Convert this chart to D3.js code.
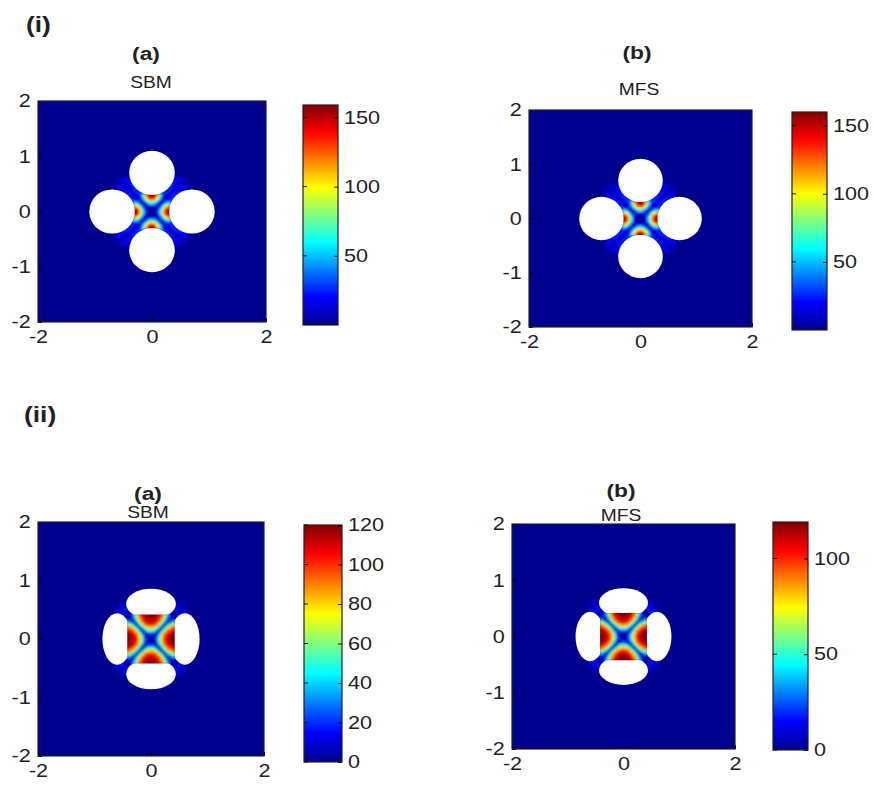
<!DOCTYPE html>
<html>
<head>
<meta charset="utf-8">
<script src="https://cdn.jsdelivr.net/npm/d3@7"></script>
<style>
  html, body { margin: 0; padding: 0; background: #fff; }
  text { font-family: "Liberation Sans", Arial, Helvetica, sans-serif; fill: #222; }
</style>
</head>
<body>
<script>
// ---- values ----
var rowLabels = ["(i)", "(ii)"];
var panelLetters = ["(a)", "(b)", "(a)", "(b)"];
var methods = ["SBM", "MFS", "SBM", "MFS"];
var colorMax = [159, 160, 120, 119];
var colorTicks = [[50, 100, 150], [50, 100, 150], [0, 20, 40, 60, 80, 100, 120], [0, 50, 100]];
var xTicks = [-2, 0, 2];
var yTicks = [-2, -1, 0, 1, 2];

// field, one quadrant per row of the figure (rows = |y|, cols = |x|, step 0.05), null = outside domain
var gridStep = 0.05;
var fieldRow1 = [
  [0, 5, 19, 60, 110, 146, 156, null, null, null, null, null, null],
  [5, 0, 16, 50, 96, 138, 150, null, null, null, null, null, null],
  [19, 16, 0, 26, 65, 100, 120, null, null, null, null, null, null],
  [60, 50, 26, 0, 29, 55, 69, null, null, null, null, null, null],
  [110, 96, 65, 29, 0, 17, 28, 28, null, null, null, null, null],
  [146, 138, 100, 55, 17, 0, 20, 26, null, null, null, null, null],
  [156, 150, 120, 69, 28, 20, 6, 18, 28, null, null, null, null],
  [null, null, null, null, 28, 26, 18, 6, 16, 24, 24, null, null],
  [null, null, null, null, null, null, 28, 16, 5, 14, 20, 20, 18],
  [null, null, null, null, null, null, null, 24, 14, 4, 12, 16, 15],
  [null, null, null, null, null, null, null, 24, 20, 12, 4, 10, 12],
  [null, null, null, null, null, null, null, null, 20, 16, 10, 3, 8],
  [null, null, null, null, null, null, null, null, 18, 15, 12, 8, 3]
];
var fieldRow2 = [
  [0, 7, 26, 56, 82, 103, 112, 117, 119, null, null, null, null],
  [7, 0, 20, 51, 80, 99, 110, 116, 118, null, null, null, null],
  [26, 20, 0, 32, 64, 91, 104, 111, 115, null, null, null, null],
  [56, 51, 32, 0, 37, 69, 92, 101, 107, null, null, null, null],
  [82, 80, 64, 37, 0, 39, 67, 85, 94, null, null, null, null],
  [103, 99, 91, 69, 39, 0, 36, 57, 68, null, null, null, null],
  [112, 110, 104, 92, 67, 36, 0, 24, 36, null, null, null, null],
  [117, 116, 111, 101, 85, 57, 24, 0, 12, null, null, null, null],
  [119, 118, 115, 107, 94, 68, 36, 12, 0, 10, null, null, null],
  [null, null, null, null, null, null, null, null, 10, 1, 18, 14, 8],
  [null, null, null, null, null, null, null, null, null, 18, 1, 10, 7],
  [null, null, null, null, null, null, null, null, null, 14, 10, 1, 5],
  [null, null, null, null, null, null, null, null, null, 8, 7, 5, 1]
];
// the four excluded (white) regions: centre distance, half-size along / across the axis, inner cut
var holesRow1 = { dist: 0.70, along: 0.40, across: 0.40, cut: 0.30 };
var holesRow2 = { dist: 0.60, along: 0.26, across: 0.44, cut: 0.42 };

// ---- layout ----
var W = 874, H = 791;
var textStretch = 1.2;
var rowLabelPos = [[26, 32], [24, 422]];
var layout = [
  { row: 0, box: [38, 101, 266, 322], bar: [303, 105, 338, 325], letter: [146, 60], method: [151, 88] },
  { row: 0, box: [529, 110, 752, 327], bar: [792, 112, 827, 330], letter: [637, 59], method: [639, 95] },
  { row: 1, box: [38, 522, 264, 756], bar: [304, 525, 342, 762], letter: [148, 500], method: [148, 518] },
  { row: 1, box: [512, 524, 735, 749], bar: [773, 522, 808, 750], letter: [621, 497], method: [621, 521] }
];

var svg = d3.select("body").append("svg").attr("width", W).attr("height", H);
var defs = svg.append("defs");
defs.append("filter").attr("id", "soft").attr("x", "-5%").attr("y", "-5%").attr("width", "110%").attr("height", "110%")
  .append("feGaussianBlur").attr("stdDeviation", 0.9);

function jet(max) {
  return d3.scaleLinear()
    .domain([0, 0.125, 0.375, 0.625, 0.875, 1].map(function(t) { return t * max; }))
    .range(["#00008f", "#0000ff", "#00ffff", "#ffff00", "#ff0000", "#800000"])
    .clamp(true);
}

function label(x, y, txt, size, bold, anchor) {
  return svg.append("text")
    .attr("transform", "translate(" + x + "," + y + ") scale(" + textStretch + ",1)")
    .attr("text-anchor", anchor || "middle")
    .style("font-size", size + "px").style("font-weight", bold ? "bold" : "normal")
    .text(txt);
}

rowLabels.forEach(function(d, i) { label(rowLabelPos[i][0], rowLabelPos[i][1], d, 22, true, "start"); });

layout.forEach(function(p, k) {
  var x = d3.scaleLinear().domain([-2, 2]).range([p.box[0], p.box[2]]);
  var y = d3.scaleLinear().domain([-2, 2]).range([p.box[3], p.box[1]]);
  var color = jet(colorMax[k]);
  var q = p.row === 0 ? fieldRow1 : fieldRow2;
  var holes = p.row === 0 ? holesRow1 : holesRow2;
  var n = q.length - 1;

  var cells = [];
  for (var j = -n; j <= n; j++) {
    for (var i = -n; i <= n; i++) {
      var v = q[Math.abs(j)][Math.abs(i)];
      if (v !== null) cells.push({ x: i * gridStep, y: j * gridStep, v: v });
    }
  }

  defs.append("clipPath").attr("id", "plot" + k)
    .append("rect").attr("x", p.box[0]).attr("y", p.box[1])
    .attr("width", p.box[2] - p.box[0]).attr("height", p.box[3] - p.box[1]);

  var c = holes.cut;
  defs.append("clipPath").attr("id", "outer" + k)
    .append("path").attr("clip-rule", "evenodd")
    .attr("d", "M" + p.box[0] + "," + p.box[1] + "H" + p.box[2] + "V" + p.box[3] + "H" + p.box[0] + "Z" +
      "M" + x(-c) + "," + y(c) + "H" + x(c) + "V" + y(-c) + "H" + x(-c) + "Z");

  var g = svg.append("g").attr("clip-path", "url(#plot" + k + ")");
  g.append("rect").attr("x", p.box[0]).attr("y", p.box[1])
    .attr("width", p.box[2] - p.box[0]).attr("height", p.box[3] - p.box[1])
    .attr("fill", color(0));

  var half = gridStep / 2;
  g.append("g").attr("filter", "url(#soft)")
    .selectAll("rect").data(cells).enter().append("rect")
    .attr("x", function(d) { return x(d.x - half) - 0.3; })
    .attr("y", function(d) { return y(d.y + half) - 0.3; })
    .attr("width", function(d) { return x(d.x + half) - x(d.x - half) + 0.6; })
    .attr("height", function(d) { return y(d.y - half) - y(d.y + half) + 0.6; })
    .attr("fill", function(d) { return color(d.v); });

  var holeList = [
    { cx: holes.dist, cy: 0, rx: holes.along, ry: holes.across },
    { cx: -holes.dist, cy: 0, rx: holes.along, ry: holes.across },
    { cx: 0, cy: holes.dist, rx: holes.across, ry: holes.along },
    { cx: 0, cy: -holes.dist, rx: holes.across, ry: holes.along }
  ];
  g.append("g").attr("clip-path", "url(#outer" + k + ")")
    .selectAll("ellipse").data(holeList).enter().append("ellipse")
    .attr("cx", function(d) { return x(d.cx); })
    .attr("cy", function(d) { return y(d.cy); })
    .attr("rx", function(d) { return x(d.rx) - x(0); })
    .attr("ry", function(d) { return y(0) - y(d.ry); })
    .attr("fill", "#fff");

  // axes
  var ax = svg.append("g").attr("transform", "translate(0," + p.box[3] + ")")
    .call(d3.axisBottom(x).tickValues(xTicks).tickSize(-4).tickPadding(8).tickFormat(function(d) { return String(d); }));
  var ay = svg.append("g").attr("transform", "translate(" + p.box[0] + ",0)")
    .call(d3.axisLeft(y).tickValues(yTicks).tickSize(-4).tickPadding(6).tickFormat(function(d) { return String(d); }));
  [ax, ay].forEach(function(a) {
    a.select(".domain").remove();
    a.selectAll("line").attr("stroke", "#000");
    a.selectAll("text").style("font-size", "18px").attr("fill", "#222")
      .attr("transform", "scale(" + textStretch + ",1)");
  });
  svg.append("rect").attr("x", p.box[0]).attr("y", p.box[1])
    .attr("width", p.box[2] - p.box[0]).attr("height", p.box[3] - p.box[1])
    .attr("fill", "none").attr("stroke", "#222").attr("stroke-width", 1.2);

  // titles
  label(p.letter[0], p.letter[1], panelLetters[k], 19, true);
  label(p.method[0], p.method[1], methods[k], 16, false);

  // colour bar
  var gid = "grad" + k;
  var grad = defs.append("linearGradient").attr("id", gid)
    .attr("x1", 0).attr("y1", 1).attr("x2", 0).attr("y2", 0);
  grad.selectAll("stop").data(color.domain()).enter().append("stop")
    .attr("offset", function(d) { return d / colorMax[k]; })
    .attr("stop-color", function(d) { return color(d); });
  var b = p.bar;
  var yc = d3.scaleLinear().domain([0, colorMax[k]]).range([b[3], b[1]]);
  svg.append("rect").attr("x", b[0]).attr("y", b[1]).attr("width", b[2] - b[0]).attr("height", b[3] - b[1])
    .attr("fill", "url(#" + gid + ")").attr("stroke", "#222").attr("stroke-width", 1.2);
  var cb = svg.append("g").attr("transform", "translate(" + b[2] + ",0)")
    .call(d3.axisRight(yc).tickValues(colorTicks[k]).tickSize(-4).tickPadding(5));
  cb.select(".domain").remove();
  cb.selectAll("line").attr("stroke", "#111");
  cb.selectAll("text").style("font-size", "18px").attr("fill", "#222")
    .attr("transform", "scale(" + textStretch + ",1)");
  svg.append("g").selectAll("line").data(colorTicks[k]).enter().append("line")
    .attr("x1", b[0]).attr("x2", b[0] + 4)
    .attr("y1", function(d) { return yc(d); }).attr("y2", function(d) { return yc(d); })
    .attr("stroke", "#111");
});
</script>
</body>
</html>
